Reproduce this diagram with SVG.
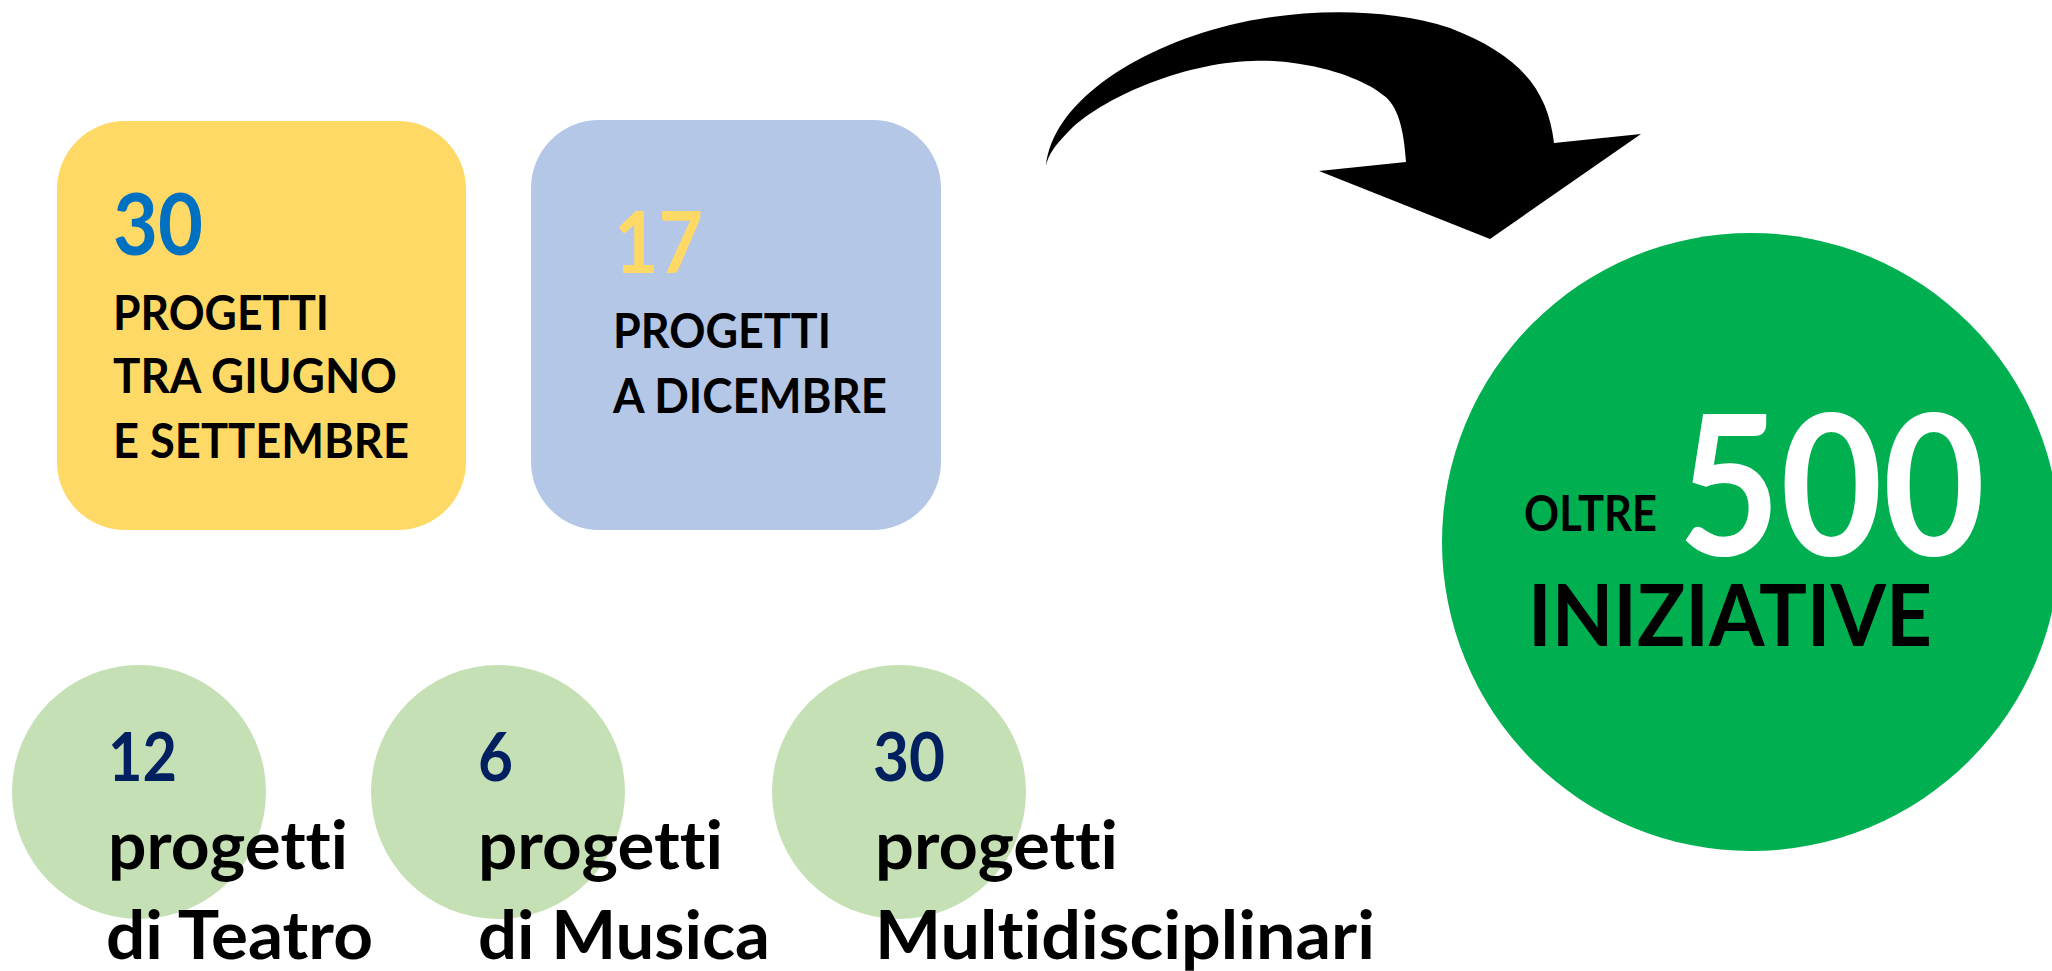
<svg xmlns="http://www.w3.org/2000/svg" width="2052" height="971" viewBox="0 0 2052 971">
<style>
  .t { font-family: Lato, "Open Sans", "Liberation Sans", sans-serif; font-weight: bold; fill: #000; font-variant-ligatures: none; font-feature-settings: "liga" 0, "clig" 0, "dlig" 0; }
  .cap { font-size: 47px; }
  .low { font-size: 67px; }
  .big { font-size: 87px; }
  .num { font-size: 67px; fill: #002060; }
  .small-c { fill: #C5E0B4; }
</style>
<rect width="2052" height="971" fill="#FFFFFF"/>

<g id="connectors">
  <path d="M1046,166 C1052,105 1130,50 1230,25 C1290,10 1380,5 1450,28 C1520,55 1548,90 1554,143 L1641,134 L1490,239 L1319,171 L1406,162 C1404,130 1398,105 1383,95 C1370,84 1340,70 1300,64 C1280,61 1265,60 1252,61 C1180,63 1100,100 1070,130 C1055,145 1048,155 1046,166 Z" fill="#000000"/>
</g>

<g id="node-giugno-settembre">
  <rect x="57" y="121" width="409" height="409" rx="68" ry="68" fill="#FFD966"/>
  <text class="t big" x="113" y="255" style="fill:#0070C0" textLength="90" lengthAdjust="spacingAndGlyphs">30</text>
  <text class="t cap" x="113" y="330" textLength="216" lengthAdjust="spacingAndGlyphs">PROGETTI</text>
  <text class="t cap" x="113" y="393" textLength="284" lengthAdjust="spacingAndGlyphs">TRA GIUGNO</text>
  <text class="t cap" x="113" y="458" textLength="296" lengthAdjust="spacingAndGlyphs">E SETTEMBRE</text>
</g>

<g id="node-dicembre">
  <rect x="531" y="120" width="410" height="410" rx="68" ry="68" fill="#B4C7E7"/>
  <text class="t big" x="614" y="273" style="fill:#FFD966" textLength="89" lengthAdjust="spacingAndGlyphs">17</text>
  <text class="t cap" x="613" y="348" textLength="218" lengthAdjust="spacingAndGlyphs">PROGETTI</text>
  <text class="t cap" x="613" y="413" textLength="274" lengthAdjust="spacingAndGlyphs">A DICEMBRE</text>
</g>

<g id="node-iniziative">
  <circle cx="1751" cy="542" r="309" fill="#00B050"/>
  <text class="t" x="1524" y="531" font-size="49" textLength="133" lengthAdjust="spacingAndGlyphs">OLTRE</text>
  <text class="t" x="1678" y="555" font-size="196" style="fill:#FFFFFF" textLength="307" lengthAdjust="spacingAndGlyphs">500</text>
  <text class="t" x="1528" y="646" font-size="86" textLength="404" lengthAdjust="spacingAndGlyphs">INIZIATIVE</text>
</g>

<g id="node-teatro">
  <circle class="small-c" cx="139" cy="792" r="127"/>
  <text class="t num" x="108" y="781" textLength="69" lengthAdjust="spacingAndGlyphs">12</text>
  <text class="t low" x="108" y="869" textLength="240" lengthAdjust="spacingAndGlyphs">progetti</text>
  <text class="t low" x="106" y="959" textLength="267" lengthAdjust="spacingAndGlyphs">di Teatro</text>
</g>

<g id="node-musica">
  <circle class="small-c" cx="498" cy="792" r="127"/>
  <text class="t num" x="478" y="781" textLength="35" lengthAdjust="spacingAndGlyphs">6</text>
  <text class="t low" x="478" y="869" textLength="245" lengthAdjust="spacingAndGlyphs">progetti</text>
  <text class="t low" x="478" y="959" textLength="292" lengthAdjust="spacingAndGlyphs">di Musica</text>
</g>

<g id="node-multidisciplinari">
  <circle class="small-c" cx="899" cy="792" r="127"/>
  <text class="t num" x="873" y="781" textLength="72" lengthAdjust="spacingAndGlyphs">30</text>
  <text class="t low" x="875" y="869" textLength="243" lengthAdjust="spacingAndGlyphs">progetti</text>
  <text class="t low" x="875" y="959" textLength="500" lengthAdjust="spacingAndGlyphs">Multidisciplinari</text>
</g>
</svg>
